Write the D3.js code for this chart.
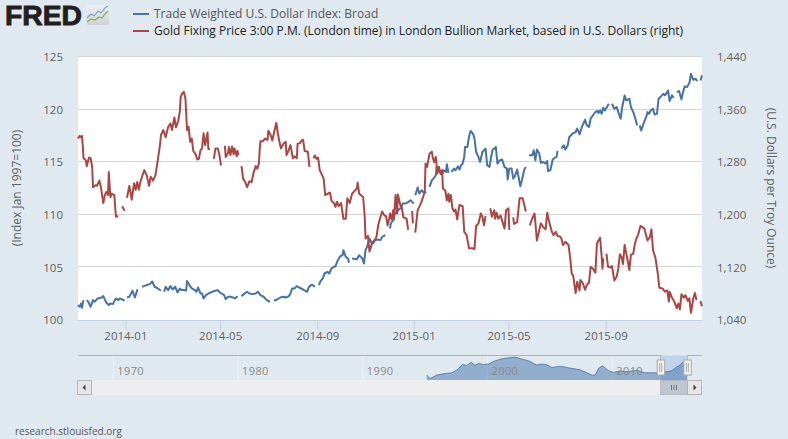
<!DOCTYPE html>
<html>
<head>
<meta charset="utf-8">
<script src="https://cdn.jsdelivr.net/npm/d3@7"></script>
<style>
  html, body { margin: 0; padding: 0; background: #e1e9f0; }
  svg { display: block; font-family: "Open Sans", sans-serif; }
  .domain { display: none; }
</style>
</head>
<body>
<svg id="chart" width="788" height="439"></svg>
<script>
const width = 788, height = 439;

// first day on the x axis, series below are [days since this date, value], null = gap in the data
const startDate = new Date(Date.UTC(2013, 10, 2));
const lastDay = 790;

const usdTicks = [100, 105, 110, 115, 120, 125];
const goldTicks = [1040, 1120, 1200, 1280, 1360, 1440];
const dateTicks = ['2014-01', '2014-05', '2014-09', '2015-01', '2015-05', '2015-09'];
const navYears = [1970, 1980, 1990, 2000, 2010];

const usdName = 'Trade Weighted U.S. Dollar Index: Broad';
const goldName = 'Gold Fixing Price 3:00 P.M. (London time) in London Bullion Market, based in U.S. Dollars (right)';

const usdSeries = [
  [0,101.42],[2,101.26],[4,101.57],[5,101.16],[7,101.89],null,
  [11,101.89],[13,101.73],[16,101.26],[19,101.89],[21,101.73],[25,102.05],[30,102.14],[32,102.27],[36,101.64],[39,101.42],[41,101.57],[44,101.51],[48,102.05],[51,101.89],[53,102.05],[56,101.95],[59,101.83],null,
  [62,102.14],[65,102.21],[69,102.78],[72,102.14],[75,102.84],[76,102.84],null,
  [81,103.16],[87,103.32],[91,103.41],[94,103.66],[97,103.16],[101,103.0],[105,102.78],null,
  [109,102.68],[111,103.16],[114,102.84],[117,103.22],[120,102.9],[123,103.16],[126,102.62],[129,103.0],[131,102.84],[135,102.84],[137,102.78],[138,103.7],[141,103.32],[144,103.0],[148,102.84],[150,102.68],[152,103.09],[155,102.52],[157,102.52],[159,102.05],[162,102.37],[165,102.52],[170,102.68],[174,102.78],[177,102.84],[180,102.59],[185,102.37],[187,101.99],[190,102.21],[193,102.21],[196,102.14],[199,102.05],[202,102.27],null,
  [207,102.27],[210,102.46],[214,102.68],[217,102.52],[221,102.46],[225,102.52],[228,102.68],[231,102.37],[235,102.21],[239,101.89],[243,101.73],null,
  [248,101.83],[252,101.95],[256,102.14],[260,102.21],[263,102.14],[267,102.27],[269,102.52],[271,103.0],[274,103.0],[277,103.22],[280,103.09],[285,102.9],[290,102.68],[292,103.09],[295,103.32],[297,103.32],[300,103.16],null,
  [305,103.32],[307,103.7],[310,103.95],[312,104.42],[316,104.58],[318,104.42],[321,104.9],[326,105.12],[329,105.69],[332,106.07],[335,106.16],[336,106.64],[339,106.0],[342,105.85],[343,105.44],null,
  [347,105.85],[353,105.78],[356,106.16],[358,106.0],[360,105.85],[362,105.37],[364,106.64],[366,106.96],[369,107.75],[372,107.27],[375,107.59],[380,107.65],[383,107.59],[385,107.9],[389,108.06],null,
  [395,108.7],[396,109.17],[399,109.49],[401,110.12],[404,110.28],[407,110.59],[409,110.59],[411,111.07],[414,111.07],[417,111.16],[421,111.38],[423,111.23],[425,111.07],null,
  [427,111.86],[430,112.59],[432,112.02],[435,112.33],[438,112.08],[441,112.18],null,
  [445,112.65],[448,113.28],[450,113.44],[453,113.76],[454,114.55],[458,114.08],[461,113.85],[463,114.23],[466,114.08],[467,114.8],[469,113.98],null,
  [473,114.08],[476,114.39],[478,114.23],[481,114.61],[483,114.3],[485,114.71],[487,114.87],[489,115.5],[490,116.45],[493,116.45],[495,117.4],[497,117.97],[500,117.72],[502,117.24],[504,115.97],[507,115.5],[509,115.02],[512,115.97],[516,116.29],[518,114.71],[521,114.55],[523,115.5],[525,116.2],[527,116.29],[529,116.45],[531,114.87],[534,115.18],[537,115.25],[540,114.55],[543,114.39],[544,113.35],[546,114.39],[549,114.39],[551,113.44],[553,113.66],[556,114.3],[560,112.71],[562,113.28],[565,114.3],[567,114.55],null,
  [571,115.66],[575,115.66],[577,116.13],[579,115.18],[581,116.2],[584,115.82],[586,114.93],[589,115.02],[592,114.87],[594,115.12],[595,114.17],[598,114.23],[601,115.25],[604,115.44],[606,115.5],[607,116.07],null,
  [612,116.29],[615,116.61],[617,116.2],[620,116.61],[622,117.4],[626,117.71],[630,117.87],[632,118.19],[635,117.65],[638,118.35],[642,119.04],[644,118.51],[647,118.35],[649,119.14],[652,119.46],[655,119.77],[658,119.87],[659,119.67],[661,119.92],[663,119.61],[665,120.18],[667,119.92],[670,120.3],[672,120.56],null,
  [676,120.56],[679,120.08],[682,120.24],[684,119.76],[687,119.13],[689,120.24],[692,121.35],[694,120.87],[698,121.03],[700,120.24],[703,119.76],[705,119.29],[708,118.5],null,
  [711,118.5],[713,118.02],[716,118.66],[720,119.45],[721,119.76],[723,119.61],[725,119.92],[728,120.08],[730,119.54],[733,119.61],[735,121.03],[738,121.25],[741,121.5],[743,121.35],[746,121.66],[747,121.82],[749,120.81],[752,121.35],[754,121.13],null,
  [758,121.66],[761,121.76],[764,120.97],[766,121.66],[768,122.2],[771,122.14],[774,122.52],[776,123.4],[779,122.83],[782,122.93],[784,122.71],null,
  [788,122.77],[790,123.25]
];

const goldSeries = [
  [0,1316],[2,1320],[3,1318],[5,1320],[6,1306],[7,1286],[10,1283],[11,1274],[14,1287],[16,1286],[18,1272],[19,1242],[22,1245],[24,1244],[27,1252],[29,1242],[32,1218],[34,1230],[36,1235],[38,1230],[39,1265],[41,1227],[43,1232],[46,1230],[48,1197],[51,1198],null,
  [56,1213],[59,1206],null,
  [62,1226],[65,1244],[68,1223],[71,1248],[73,1238],[75,1250],[77,1238],[79,1250],[81,1258],[84,1268],[87,1260],[90,1244],[92,1258],[95,1252],[98,1260],[101,1283],[104,1308],[105,1321],[108,1329],[111,1318],[114,1333],[117,1339],[119,1329],[122,1348],[124,1333],[127,1343],[129,1358],[130,1379],[132,1385],[134,1387],[136,1377],[137,1354],[138,1329],[140,1334],[142,1311],[144,1316],[146,1297],[149,1292],[151,1284],[153,1285],[155,1298],[157,1301],[159,1324],[161,1306],[164,1325],[165,1300],[167,1300],null,
  [172,1285],[174,1301],[177,1301],[179,1291],[181,1275],null,
  [186,1305],[187,1288],[190,1294],[191,1303],[193,1291],[195,1304],[197,1292],[198,1301],[201,1289],[202,1297],[203,1291],null,
  [207,1274],[209,1255],[212,1249],[214,1242],[217,1251],[220,1250],[222,1263],[225,1274],[227,1270],[229,1278],[230,1298],[231,1312],[234,1312],[237,1316],[240,1314],[241,1328],[244,1321],[246,1313],[248,1324],[251,1340],[253,1324],[255,1311],[257,1301],[260,1308],[263,1311],[264,1291],[266,1296],[269,1306],[272,1286],[274,1289],[277,1286],[278,1308],[281,1309],[283,1313],[285,1314],[287,1297],[291,1296],[293,1273],null,
  [298,1286],[300,1290],[302,1285],[304,1287],[306,1268],[308,1263],[311,1255],[313,1230],[316,1232],[319,1234],[321,1221],[324,1218],[326,1212],[328,1220],[330,1213],[333,1218],[336,1194],[339,1194],[341,1225],[344,1218],[347,1232],[350,1236],[353,1240],[354,1249],[356,1232],[361,1227],[363,1197],[364,1164],[367,1168],[369,1144],[372,1156],[374,1157],[378,1167],[380,1184],[383,1197],[385,1205],[388,1199],[390,1198],[392,1184],[394,1194],[395,1202],[397,1193],[399,1207],[400,1193],[402,1230],[404,1202],[405,1231],[408,1215],[410,1210],[412,1196],[416,1194],[418,1177],null,
  [423,1206],[424,1187],null,
  [427,1173],[430,1207],[432,1212],[435,1220],[439,1235],[440,1278],[442,1273],[445,1293],[448,1296],[449,1288],[451,1280],[453,1288],[455,1263],[457,1273],[459,1262],[461,1268],[462,1240],[465,1237],[467,1222],[469,1232],[470,1220],[472,1230],[474,1210],[476,1205],[478,1208],[480,1193],[483,1215],[487,1213],[489,1174],[492,1169],[495,1149],[499,1149],[502,1148],[504,1183],[507,1187],[510,1202],[512,1197],[514,1184],[516,1198],null,
  [522,1210],[524,1197],[527,1207],[528,1194],[530,1203],[532,1194],[535,1199],[538,1187],[540,1179],[542,1207],[545,1210],[546,1177],null,
  [551,1196],[552,1186],[556,1189],[559,1225],[563,1225],[567,1205],null,
  [572,1184],[575,1194],[578,1202],[581,1161],[584,1177],[586,1187],[589,1181],[592,1178],[594,1203],[597,1187],[600,1174],[602,1169],[605,1174],[607,1168],[610,1167],[612,1164],[614,1154],[617,1159],[621,1154],[623,1136],[625,1111],[627,1107],[630,1081],[632,1098],[635,1085],[636,1101],[639,1096],[642,1086],[644,1093],[647,1097],[649,1121],[652,1118],[655,1112],[657,1156],[658,1159],[661,1165],[663,1136],[664,1118],[665,1134],null,
  [669,1141],[671,1121],[674,1120],[676,1122],[679,1100],[682,1106],[684,1118],[686,1140],[688,1136],[690,1125],[692,1154],[695,1136],[698,1116],[700,1139],[703,1141],[705,1156],[707,1164],[709,1169],[712,1183],[714,1182],[717,1179],[721,1161],[724,1166],[726,1178],[728,1146],[731,1135],[734,1111],[736,1089],[740,1088],[743,1083],[746,1085],[748,1068],[749,1083],[752,1074],[755,1068],[758,1058],[760,1065],[762,1056],[764,1079],[767,1074],[769,1078],[772,1069],[774,1073],[776,1051],[779,1073],[781,1081],[783,1070],null,
  [788,1069],[790,1061]
];

// long history shown in the navigator strip: [year, index]
const navSeries = [
  [1995.13,94],[1995.4,87],[1995.93,94],[1996.46,96.7],[1997.13,98.7],[1997.53,104],[1998.0,115.7],[1998.34,113.7],[1998.68,120],[1999.0,114],[1999.27,118],[1999.67,115.7],[2000.07,116.4],[2000.61,123.2],[2001.28,128],[2002.21,130.7],[2002.75,126.6],[2003.28,123.2],[2003.95,114.4],[2004.35,116.4],[2004.75,115],[2005.15,109.6],[2005.82,112.3],[2006.62,108.2],[2007.42,104.8],[2008.36,94],[2008.63,94],[2008.89,107.6],[2009.21,113],[2009.7,102.8],[2010.1,99.4],[2010.63,102.8],[2011.17,100.8],[2011.97,104],[2012.64,98.7],[2013.57,98.7],[2013.97,100],[2014.37,100.8],[2014.78,102.8],[2015.18,111],[2015.44,114.4],[2015.6,119],[2016.0,124.6]
];

const plot = { left: 78, right: 702, top: 57, bottom: 320 };
const nav = { top: 355.5, bottom: 380, selLeft: 660.7, selRight: 687.3 };

const blue = '#4572a7', red = '#aa4643';
const labelColor = '#5f5f5f';

const svg = d3.select('#chart');
svg.append('rect').attr('width', width).attr('height', height).attr('fill', '#e1e9f0');

const dayDate = (d) => d3.utcDay.offset(startDate, d);
const x = d3.scaleUtc().domain([startDate, dayDate(lastDay)]).range([plot.left, plot.right]);
const yUsd = d3.scaleLinear().domain([100, 125]).range([plot.bottom, plot.top]);
const yGold = d3.scaleLinear().domain([1040, 1440]).range([plot.bottom, plot.top]);

svg.append('rect')
  .attr('x', plot.left).attr('y', plot.top)
  .attr('width', plot.right - plot.left).attr('height', plot.bottom - plot.top)
  .attr('fill', '#fff');

// gridlines come off the left axis
svg.append('g').selectAll('line').data(usdTicks.slice(1)).join('line')
  .attr('x1', plot.left).attr('x2', plot.right)
  .attr('y1', (d) => Math.round(yUsd(d)) - 0.5).attr('y2', (d) => Math.round(yUsd(d)) - 0.5)
  .attr('stroke', '#d5d5d5');

// axes
const leftAxis = svg.append('g')
  .attr('transform', `translate(${plot.left},0)`)
  .call(d3.axisLeft(yUsd).tickValues(usdTicks).tickSize(0).tickPadding(15));
const rightAxis = svg.append('g')
  .attr('transform', `translate(${plot.right},0)`)
  .call(d3.axisRight(yGold).tickValues(goldTicks).tickSize(0).tickPadding(15).tickFormat(d3.format(',')));
const parseMonth = d3.utcParse('%Y-%m');
const bottomAxis = svg.append('g')
  .attr('transform', `translate(0,${plot.bottom})`)
  .call(d3.axisBottom(x).tickValues(dateTicks.map(parseMonth)).tickSize(10).tickPadding(2).tickFormat(d3.utcFormat('%Y-%m')));
bottomAxis.selectAll('line').attr('stroke', '#c0d0e0');
svg.append('line')
  .attr('x1', plot.left).attr('x2', plot.right)
  .attr('y1', plot.bottom + 0.5).attr('y2', plot.bottom + 0.5)
  .attr('stroke', '#c0d0e0');
[leftAxis, rightAxis, bottomAxis].forEach((g) => {
  g.selectAll('text').attr('fill', labelColor)
    .style('font-family', '"Open Sans", sans-serif').style('font-size', '11.5px');
});

// axis titles
svg.append('text')
  .attr('transform', 'translate(18,188) rotate(-90)')
  .attr('text-anchor', 'middle').attr('dominant-baseline', 'middle')
  .attr('fill', labelColor).style('font-size', '12px')
  .text('(Index Jan 1997=100)');
svg.append('text')
  .attr('transform', 'translate(770,188) rotate(90)')
  .attr('text-anchor', 'middle').attr('dominant-baseline', 'middle')
  .attr('fill', labelColor).style('font-size', '12px')
  .text('(U.S. Dollars per Troy Ounce)');

// series
const usdLine = d3.line().defined((d) => d).x((d) => x(dayDate(d[0]))).y((d) => yUsd(d[1]));
const goldLine = d3.line().defined((d) => d).x((d) => x(dayDate(d[0]))).y((d) => yGold(d[1]));
svg.append('path').attr('d', usdLine(usdSeries))
  .attr('fill', 'none').attr('stroke', blue).attr('stroke-width', 2).attr('stroke-linejoin', 'round');
svg.append('path').attr('d', goldLine(goldSeries))
  .attr('fill', 'none').attr('stroke', red).attr('stroke-width', 2).attr('stroke-linejoin', 'round');

// legend
const legendRows = [
  { name: usdName, color: blue, text: '#555', y: 14 },
  { name: goldName, color: red, text: '#222', y: 31 }
];
legendRows.forEach((row) => {
  svg.append('line').attr('x1', 133).attr('x2', 149).attr('y1', row.y).attr('y2', row.y)
    .attr('stroke', row.color).attr('stroke-width', 2);
  svg.append('text').attr('x', 154).attr('y', row.y + 4)
    .attr('fill', row.text).style('font-size', '12px').text(row.name);
});

// navigator
const xNav = d3.scaleLinear().domain([1970, 2010]).range([113.3, 612.3]);
const yNav = d3.scaleLinear().domain([84, 134]).range([nav.bottom, nav.top]);

svg.append('g').selectAll('line').data(navYears).join('line')
  .attr('x1', (d) => xNav(d)).attr('x2', (d) => xNav(d))
  .attr('y1', nav.top).attr('y2', nav.bottom)
  .attr('stroke', '#eef1f5');

const navArea = d3.area().x((d) => xNav(d[0])).y0(nav.bottom).y1((d) => yNav(d[1]));
const navLine = d3.line().x((d) => xNav(d[0])).y((d) => yNav(d[1]));

svg.append('rect')
  .attr('x', nav.selLeft).attr('y', nav.top)
  .attr('width', nav.selRight - nav.selLeft).attr('height', nav.bottom - nav.top)
  .attr('fill', '#c0d3ec');
svg.append('path').attr('d', navArea(navSeries)).attr('fill', '#4572a7').attr('fill-opacity', 0.5);
svg.append('path').attr('d', navLine(navSeries)).attr('fill', 'none').attr('stroke', '#4572a7').attr('stroke-width', 0.8);

svg.append('g').selectAll('text').data(navYears).join('text')
  .attr('x', (d) => xNav(d) + 4).attr('y', 375)
  .attr('fill', '#888').style('font-size', '11px').style('letter-spacing', '0.4px')
  .text((d) => d);

// navigator outline, open over the selected range
[[plot.left, nav.selLeft], [nav.selRight, plot.right]].forEach(([a, b]) => {
  svg.append('line').attr('x1', a).attr('x2', b).attr('y1', nav.top).attr('y2', nav.top)
    .attr('stroke', '#b2b1b6');
});
[nav.selLeft, nav.selRight].forEach((p) => {
  svg.append('line').attr('x1', p).attr('x2', p).attr('y1', nav.top).attr('y2', nav.top + 5)
    .attr('stroke', '#b2b1b6');
});

// scrollbar
svg.append('rect').attr('x', plot.left).attr('y', 380).attr('width', plot.right - plot.left).attr('height', 15).attr('fill', '#eeeeee');
svg.append('rect').attr('x', nav.selLeft).attr('y', 380.5).attr('width', nav.selRight - nav.selLeft).attr('height', 14)
  .attr('fill', '#bfc8d1').attr('stroke', '#b5b9bf');
[-2.5, 0, 2.5].forEach((dx) => {
  const cx = (nav.selLeft + nav.selRight) / 2 + dx;
  svg.append('line').attr('x1', cx).attr('x2', cx).attr('y1', 385).attr('y2', 390).attr('stroke', '#6e7478');
});
[[77.5, -1], [687.5, 1]].forEach(([bx, dir]) => {
  svg.append('rect').attr('x', bx).attr('y', 380.5).attr('width', 14).attr('height', 14)
    .attr('fill', '#e6e6e6').attr('stroke', '#b5b5b5');
  const cx = bx + 7;
  svg.append('path')
    .attr('d', `M${cx + dir * 2},387.5L${cx - dir},384.5L${cx - dir},390.5Z`)
    .attr('fill', '#444');
});

// navigator handles
[nav.selLeft, nav.selRight].forEach((p) => {
  svg.append('rect').attr('x', p - 3.5).attr('y', 360).attr('width', 7.5).attr('height', 15)
    .attr('fill', '#f2f2f2').attr('stroke', '#a8a8a8');
  [-1, 1].forEach((dx) => {
    svg.append('line').attr('x1', p + dx).attr('x2', p + dx).attr('y1', 363).attr('y2', 372).attr('stroke', '#a8a8a8');
  });
});

// footer
svg.append('text').attr('x', 15).attr('y', 435)
  .attr('fill', '#555').style('font-size', '10px').text('research.stlouisfed.org');

// FRED logo
svg.append('text').attr('x', 5).attr('y', 25)
  .attr('fill', '#231f20').attr('stroke', '#231f20').attr('stroke-width', 0.9)
  .attr('textLength', 77).attr('lengthAdjust', 'spacingAndGlyphs')
  .style('font-family', '"Liberation Sans", sans-serif').style('font-weight', 700).style('font-size', '28px')
  .text('FRED');
const logoGrad = svg.append('defs').append('linearGradient').attr('id', 'logoBg')
  .attr('x1', 0).attr('x2', 0).attr('y1', 0).attr('y2', 1);
logoGrad.append('stop').attr('offset', 0).attr('stop-color', '#eef1f4');
logoGrad.append('stop').attr('offset', 1).attr('stop-color', '#cfd2d3');
svg.append('rect').attr('x', 87).attr('y', 5).attr('width', 22).attr('height', 20).attr('rx', 1.5).attr('fill', 'url(#logoBg)');
svg.append('path').attr('d', 'M87,18L91,14L94,16L98,11L101,13L105,8L108,6')
  .attr('fill', 'none').attr('stroke', '#7f9fc0').attr('stroke-width', 1.2);
svg.append('path').attr('d', 'M87,22L91,19L95,20L99,17L102,18L105,14L108,11')
  .attr('fill', 'none').attr('stroke', '#8aa85a').attr('stroke-width', 1.2);
</script>
</body>
</html>
